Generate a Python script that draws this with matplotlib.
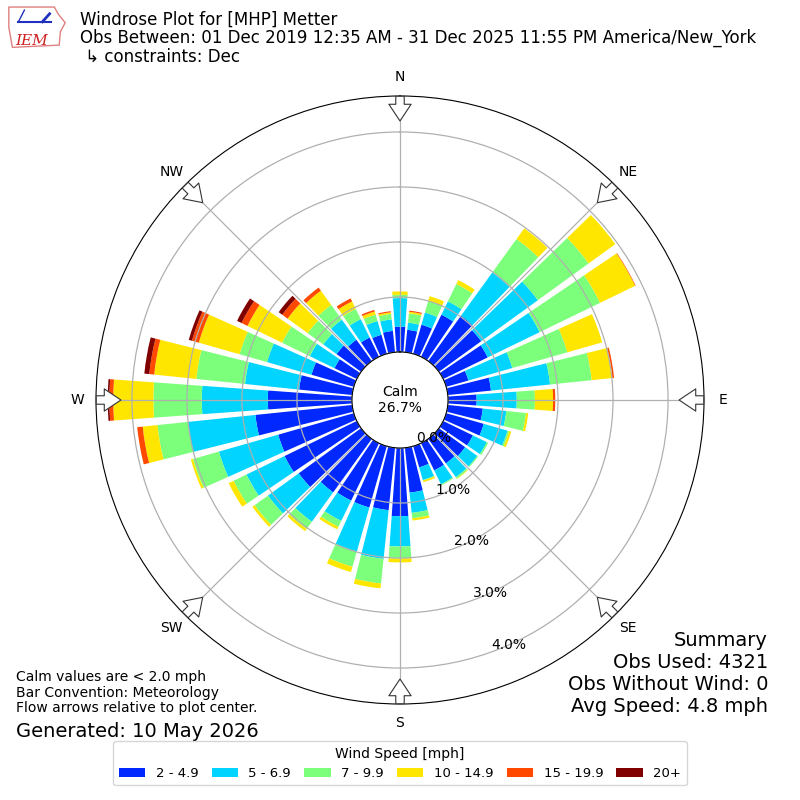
import numpy as np
import matplotlib
matplotlib.use("Agg")
import matplotlib.pyplot as plt
from matplotlib.patches import Polygon

# direction bins (degrees, meteorological) and percent of obs per speed bin
directions = list(range(0, 360, 10))
speed_labels = ["2 - 4.9", "5 - 6.9", "7 - 9.9", "10 - 14.9", "15 - 19.9", "20+"]
colors = ["#0028ff", "#00d4ff", "#7cff7a", "#ffe600", "#ff4800", "#800000"]

pct_2_5 = [0.46, 0.41, 0.55, 0.85, 1.02, 0.95, 0.90, 0.42, 0.79, 0.52, 0.64, 0.71,
           0.60, 0.59, 0.55, 0.55, 0.40, 0.82, 1.24, 1.14, 1.16, 1.16, 1.20, 1.40,
           1.46, 1.43, 1.77, 1.53, 0.97, 0.80, 0.45, 0.55, 0.48, 0.39, 0.36, 0.39]
pct_5_7 = [0.52, 0.13, 0.23, 0.27, 0.97, 1.27, 1.05, 0.83, 1.08, 0.73, 0.43, 0.45,
           0.28, 0.27, 0.31, 0.28, 0.24, 0.37, 0.55, 0.89, 0.83, 0.41, 0.66, 0.69,
           0.77, 1.12, 1.23, 1.20, 0.99, 0.84, 0.50, 0.30, 0.45, 0.37, 0.26, 0.21]
pct_7_10 = [0.06, 0.17, 0.22, 0.35, 0.75, 1.14, 1.22, 1.04, 0.76, 0.33, 0.36, 0.03,
            0.03, 0.02, 0.03, 0.02, 0.01, 0.10, 0.22, 0.45, 0.29, 0.12, 0.16, 0.30,
            0.26, 0.49, 0.56, 0.88, 0.89, 0.52, 0.56, 0.35, 0.33, 0.21, 0.12, 0.10]
pct_10_15 = [0.06, 0.03, 0.09, 0.08, 0.24, 0.60, 0.71, 0.66, 0.38, 0.33, 0.04, 0.04,
             0.00, 0.00, 0.01, 0.00, 0.03, 0.04, 0.07, 0.09, 0.10, 0.05, 0.05, 0.05,
             0.10, 0.04, 0.27, 0.73, 0.77, 0.77, 0.70, 0.45, 0.32, 0.15, 0.06, 0.03]
pct_15_20 = [0.00, 0.02, 0.00, 0.00, 0.00, 0.00, 0.01, 0.00, 0.03, 0.04, 0.00, 0.00,
             0.00, 0.00, 0.00, 0.00, 0.00, 0.00, 0.00, 0.00, 0.00, 0.00, 0.00, 0.00,
             0.00, 0.00, 0.10, 0.07, 0.09, 0.13, 0.12, 0.12, 0.07, 0.06, 0.03, 0.02]
pct_20p = [0.00, 0.00, 0.00, 0.00, 0.00, 0.00, 0.00, 0.00, 0.00, 0.00, 0.00, 0.00,
           0.00, 0.00, 0.00, 0.00, 0.00, 0.00, 0.00, 0.00, 0.00, 0.00, 0.00, 0.00,
           0.00, 0.00, 0.00, 0.03, 0.09, 0.06, 0.09, 0.08, 0.00, 0.00, 0.00, 0.00]
series = [pct_2_5, pct_5_7, pct_7_10, pct_10_15, pct_15_20, pct_20p]

rings = [0, 1, 2, 3, 4]
compass = ["N", "NE", "E", "SE", "S", "SW", "W", "NW"]
calm_pct = 26.7
summary_lines = ["Summary", "Obs Used: 4321", "Obs Without Wind: 0", "Avg Speed: 4.8 mph"]

fig = plt.figure(figsize=(8, 8), dpi=100)
ax = fig.add_axes([0.12, 0.12, 0.76, 0.76], projection="polar")
ax.set_theta_zero_location("N")
ax.set_theta_direction(-1)

theta = np.deg2rad(directions)
width = np.deg2rad(8.2)
bottom = np.zeros(len(directions))
for vals, col, lab in zip(series, colors, speed_labels):
    ax.bar(theta, vals, width=width, bottom=bottom, color=col, linewidth=0, label=lab)
    bottom = bottom + np.array(vals)

ax.set_rorigin(-0.873)
ax.set_ylim(0, 4.654)
ax.set_yticks(rings)
ax.set_yticklabels(["%.1f%%" % r for r in rings], fontsize=10)
ax.set_rlabel_position(160)
ax.set_xticks(np.deg2rad(range(0, 360, 45)))
ax.set_xticklabels(compass, fontsize=10)
ax.tick_params(axis="x", pad=3)
ax.grid(True, color="#b0b0b0", linewidth=0.9)

# flow arrows at the compass points
for d in range(0, 360, 45):
    ax.annotate("", xy=(np.deg2rad(d), 4.15), xytext=(np.deg2rad(d), 4.70),
                arrowprops=dict(arrowstyle="simple,head_length=0.75,head_width=1.0,tail_width=0.38",
                                fc="white", ec="#333333", lw=0.8, mutation_scale=16),
                annotation_clip=False)

ax.text(0, -0.873, "Calm\n%.1f%%" % calm_pct, ha="center", va="center", fontsize=10)

# header
fig.text(0.1, 0.986, "Windrose Plot for [MHP] Metter\n"
         "Obs Between: 01 Dec 2019 12:35 AM - 31 Dec 2025 11:55 PM America/New_York\n"
         " \u21b3 constraints: Dec", ha="left", va="top", fontsize=12, linespacing=1.0)

# rough IEM logo
lax = fig.add_axes([0.008, 0.938, 0.075, 0.056])
lax.set_xlim(0, 1)
lax.set_ylim(0, 1)
lax.axis("off")
lax.add_patch(Polygon([[0.04, 0.95], [0.8, 0.95], [0.86, 0.8], [0.98, 0.6], [0.9, 0.4],
                       [0.88, 0.1], [0.1, 0.05], [0.04, 0.5]],
                      closed=True, fill=False, ec="#e08080", lw=1))
lax.plot([0.2, 0.75], [0.62, 0.62], color="#2030c0", lw=1.5)
lax.plot([0.2, 0.25, 0.3], [0.62, 0.75, 0.88], color="#2030c0", lw=1)
lax.plot([0.6, 0.72], [0.62, 0.8], color="#2030c0", lw=2)
lax.text(0.42, 0.2, "IEM", color="#d02020", fontsize=11, style="italic",
         family="DejaVu Serif", ha="center", va="center")

# summary block, one line per text
for i, line in enumerate(summary_lines):
    fig.text(0.96, 0.2 - i * 0.0275, line, ha="right", va="center", fontsize=14)

fig.text(0.02, 0.106, "Calm values are < 2.0 mph\nBar Convention: Meteorology\n"
         "Flow arrows relative to plot center.", ha="left", va="bottom", fontsize=10,
         linespacing=1.15)
fig.text(0.02, 0.074, "Generated: 10 May 2026", ha="left", va="bottom", fontsize=14)

handles, labels = ax.get_legend_handles_labels()
fig.legend(handles, labels, loc="lower center", bbox_to_anchor=(0.5, 0.01), ncol=6,
           title="Wind Speed [mph]", fontsize=9.5, title_fontsize=10, frameon=True,
           columnspacing=1.0, handletextpad=0.8)

fig.savefig("out.png", dpi=100)
